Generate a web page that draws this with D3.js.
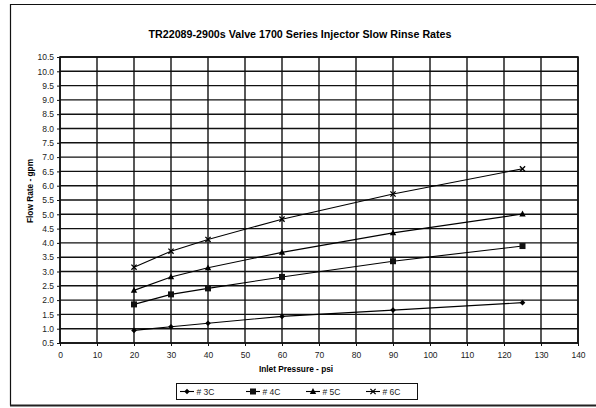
<!DOCTYPE html>
<html>
<head>
<meta charset="utf-8">
<script src="https://cdn.jsdelivr.net/npm/d3@7"></script>
<style>
  html, body { margin: 0; padding: 0; background: #fff; }
  svg { display: block; font-family: "Liberation Sans", Arial, sans-serif; }
</style>
</head>
<body>
<svg id="chart" width="596" height="408"></svg>
<script>
// Slow rinse flow rates per injector size, measured at several inlet pressures
const pressures = [20, 30, 40, 60, 90, 125];
const seriesNames = ["# 3C", "# 4C", "# 5C", "# 6C"];
const flow3C = [0.94, 1.07, 1.19, 1.43, 1.65, 1.91];
const flow4C = [1.85, 2.20, 2.41, 2.81, 3.36, 3.89];
const flow5C = [2.34, 2.81, 3.13, 3.67, 4.35, 5.01];
const flow6C = [3.15, 3.71, 4.12, 4.83, 5.71, 6.59];
const xTicks = d3.range(0, 141, 10);
const yTicks = d3.range(0.5, 10.51, 0.5);
const titleText = "TR22089-2900s Valve 1700 Series Injector Slow Rinse Rates";
const xTitle = "Inlet Pressure - psi";
const yTitle = "Flow Rate - gpm";

const series = [
  { name: seriesNames[0], values: flow3C, marker: "diamond" },
  { name: seriesNames[1], values: flow4C, marker: "square" },
  { name: seriesNames[2], values: flow5C, marker: "triangle" },
  { name: seriesNames[3], values: flow6C, marker: "cross" }
];

const svg = d3.select("#chart");
const plot = { left: 60, right: 578, top: 57, bottom: 343 };

const x = d3.scaleLinear().domain([0, 140]).range([plot.left, plot.right]);
const y = d3.scaleLinear().domain([0.5, 10.5]).range([plot.bottom, plot.top]);

// outer frame of the chart area
svg.append("path")
  .attr("d", "M596,4.5 H10.5 V405.5")
  .attr("fill", "none").attr("stroke", "#111").attr("stroke-width", 1.2);
svg.append("line")
  .attr("x1", 10).attr("x2", 596).attr("y1", 405.5).attr("y2", 405.5)
  .attr("stroke", "#222").attr("stroke-width", 2);

// title
svg.append("text")
  .attr("x", 300).attr("y", 38)
  .attr("text-anchor", "middle")
  .attr("font-size", 10.7).attr("font-weight", "bold")
  .text(titleText);

// grid lines
const grid = svg.append("g").attr("stroke", "#111").attr("stroke-width", 1.4);
grid.selectAll("line.h").data(yTicks).join("line")
  .attr("class", "h")
  .attr("x1", plot.left).attr("x2", plot.right)
  .attr("y1", d => y(d)).attr("y2", d => y(d));
grid.selectAll("line.v").data(xTicks).join("line")
  .attr("class", "v")
  .attr("y1", plot.top).attr("y2", plot.bottom)
  .attr("x1", d => x(d)).attr("x2", d => x(d));

// plot border
svg.append("rect")
  .attr("x", plot.left).attr("y", plot.top)
  .attr("width", plot.right - plot.left).attr("height", plot.bottom - plot.top)
  .attr("fill", "none").attr("stroke", "#111").attr("stroke-width", 1.6);

// axes
const yAxis = svg.append("g")
  .attr("transform", `translate(${plot.left},0)`)
  .call(d3.axisLeft(y).tickValues(yTicks).tickFormat(d3.format(".1f")).tickSize(3).tickPadding(3));
const xAxis = svg.append("g")
  .attr("transform", `translate(0,${plot.bottom})`)
  .call(d3.axisBottom(x).tickValues(xTicks).tickFormat(d3.format("d")).tickSize(3).tickPadding(6));
[yAxis, xAxis].forEach(a => {
  a.select(".domain").remove();
  a.selectAll(".tick line").attr("stroke", "#111");
  a.selectAll(".tick text")
    .attr("font-family", "Liberation Sans, Arial, sans-serif")
    .attr("font-size", 8.5).attr("fill", "#222");
});

// axis titles
svg.append("text")
  .attr("x", 296).attr("y", 372)
  .attr("text-anchor", "middle")
  .attr("font-size", 8.3).attr("font-weight", "bold")
  .text(xTitle);
svg.append("text")
  .attr("transform", "translate(33,191) rotate(-90)")
  .attr("text-anchor", "middle")
  .attr("font-size", 8.3).attr("font-weight", "bold")
  .text(yTitle);

// marker drawing
function drawMarker(g, type, cx, cy) {
  if (type === "diamond") {
    g.append("path")
      .attr("d", `M${cx},${cy - 2.8} L${cx + 2.8},${cy} L${cx},${cy + 2.8} L${cx - 2.8},${cy} Z`)
      .attr("fill", "#000");
  } else if (type === "square") {
    g.append("rect")
      .attr("x", cx - 3).attr("y", cy - 3).attr("width", 6).attr("height", 6)
      .attr("fill", "#111");
  } else if (type === "triangle") {
    g.append("path")
      .attr("d", `M${cx},${cy - 3.4} L${cx + 3.2},${cy + 2.4} L${cx - 3.2},${cy + 2.4} Z`)
      .attr("fill", "#000");
  } else {
    g.append("path")
      .attr("d", `M${cx - 2.6},${cy - 2.6} L${cx + 2.6},${cy + 2.6} M${cx + 2.6},${cy - 2.6} L${cx - 2.6},${cy + 2.6}`)
      .attr("stroke", "#000").attr("stroke-width", 1.3).attr("fill", "none");
  }
}

// series lines (straight segments) and markers
const line = d3.line().x(d => x(d[0])).y(d => y(d[1]));
series.forEach(s => {
  const pts = pressures.map((p, i) => [p, s.values[i]]);
  svg.append("path")
    .datum(pts)
    .attr("d", line)
    .attr("fill", "none").attr("stroke", "#000").attr("stroke-width", 1.1);
  const mg = svg.append("g");
  pts.forEach(p => drawMarker(mg, s.marker, x(p[0]), y(p[1])));
});

// legend
const legend = svg.append("g");
legend.append("rect")
  .attr("x", 176.5).attr("y", 383.5).attr("width", 241).attr("height", 16)
  .attr("fill", "#fff").attr("stroke", "#111").attr("stroke-width", 1);
const legendX = [180, 246, 306, 366];
series.forEach((s, i) => {
  const lx = legendX[i], ly = 391.5;
  legend.append("line")
    .attr("x1", lx).attr("x2", lx + 14).attr("y1", ly).attr("y2", ly)
    .attr("stroke", "#000").attr("stroke-width", 1.1);
  drawMarker(legend, s.marker, lx + 7, ly);
  legend.append("text")
    .attr("x", lx + 16.5).attr("y", ly + 3)
    .attr("font-size", 8.5).attr("fill", "#222")
    .text(s.name);
});
</script>
</body>
</html>
